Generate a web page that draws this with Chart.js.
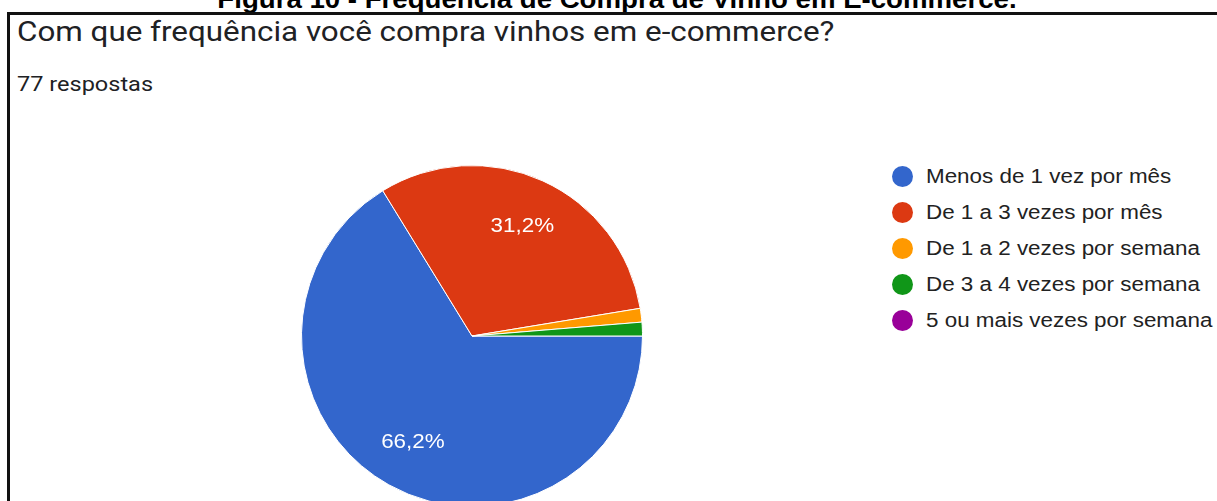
<!DOCTYPE html>
<html>
<head>
<meta charset="utf-8">
<script src="https://cdn.jsdelivr.net/npm/chart.js@4.4.1/dist/chart.umd.min.js"></script>
<style>
  html, body { margin: 0; padding: 0; width: 1217px; height: 501px; overflow: hidden; background: #fff; }
  #caption {
    position: absolute; left: 0; width: 1234px; top: -15px; text-align: center;
    font: bold 25px "Liberation Sans", Arial, sans-serif; color: #000; white-space: nowrap;
    transform: scaleX(1.105); transform-origin: 617px 0;
  }
  #box {
    position: absolute; left: 7px; top: 12px; width: 1300px; height: 600px;
    border: 3px solid #111; box-sizing: border-box;
  }
  .txt { position: absolute; left: 17px; white-space: nowrap; color: #202124; transform: scaleX(1.12); transform-origin: 0 0; }
  #title { top: 15px; font: 28px Roboto, sans-serif; }
  #count { top: 72px; font: 21px Roboto, sans-serif; }
  #pie { position: absolute; left: 301px; top: 165px; }
  #legend { position: absolute; left: 892px; top: 159px; }
  .item {
    height: 35.8px; display: flex; align-items: center; white-space: nowrap;
    font: 20px "Liberation Sans", Arial, sans-serif; color: #222;
  }
  .dot { width: 21px; height: 21px; border-radius: 50%; margin-right: 13px; flex: none; }
  .item span.lbl { display: inline-block; transform: scaleX(1.12); transform-origin: 0 50%; }
</style>
</head>
<body>
<div id="caption">Figura 10 - Frequência de Compra de Vinho em E-commerce.</div>
<div id="box"></div>
<div id="title" class="txt">Com que frequência você compra vinhos em e-commerce?</div>
<div id="count" class="txt">77 respostas</div>
<canvas id="pie" width="342" height="342"></canvas>
<div id="legend"></div>
<script>
// answers (77 responses in total)
const categories = [
  'Menos de 1 vez por mês',
  'De 1 a 3 vezes por mês',
  'De 1 a 2 vezes por semana',
  'De 3 a 4 vezes por semana',
  '5 ou mais vezes por semana'
];
const responses = [51, 24, 1, 1, 0];
const colors = ['#3366cc', '#dc3912', '#ff9900', '#109618', '#990099'];

const total = responses.reduce((a, b) => a + b, 0);

// build legend
const legend = document.getElementById('legend');
categories.forEach((name, i) => {
  const row = document.createElement('div');
  row.className = 'item';
  row.innerHTML = '<span class="dot" style="background:' + colors[i] + '"></span><span class="lbl">' + name + '</span>';
  legend.appendChild(row);
});

// percentage labels inside the bigger slices
const sliceLabels = {
  id: 'sliceLabels',
  afterDatasetsDraw(chart) {
    const ctx = chart.ctx;
    const meta = chart.getDatasetMeta(0);
    meta.data.forEach((arc, i) => {
      const pct = responses[i] / total * 100;
      if (pct < 5) return;
      const mid = (arc.startAngle + arc.endAngle) / 2;
      const r = arc.outerRadius * 0.71;
      const x = arc.x + Math.cos(mid) * r;
      const y = arc.y + Math.sin(mid) * r;
      ctx.save();
      ctx.translate(x, y);
      ctx.scale(1.12, 1);
      ctx.font = '20px "Liberation Sans", Arial, sans-serif';
      ctx.fillStyle = '#fff';
      ctx.textAlign = 'center';
      ctx.textBaseline = 'middle';
      ctx.fillText(pct.toFixed(1).replace('.', ',') + '%', 0, 1);
      ctx.restore();
    });
  }
};

new Chart(document.getElementById('pie'), {
  type: 'pie',
  data: {
    labels: categories,
    datasets: [{
      data: responses,
      backgroundColor: colors,
      borderColor: '#fff',
      borderWidth: 1
    }]
  },
  options: {
    responsive: false,
    animation: false,
    rotation: 90,
    layout: { padding: 0 },
    plugins: {
      legend: { display: false },
      tooltip: { enabled: false }
    }
  },
  plugins: [sliceLabels]
});
</script>
</body>
</html>
